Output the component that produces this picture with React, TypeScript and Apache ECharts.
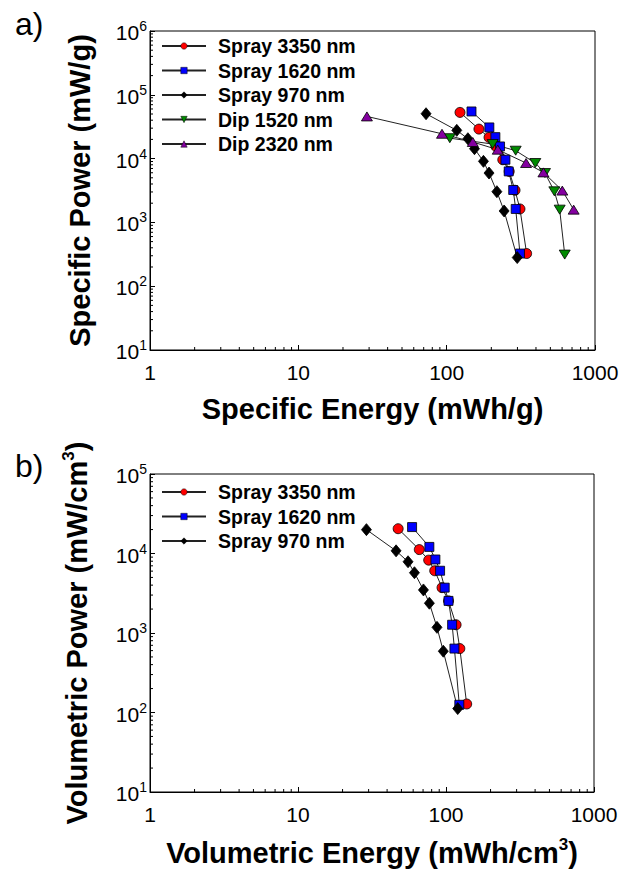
import React, { useEffect, useRef } from 'react';
import * as echarts from 'echarts';

const FONT = '"Liberation Sans", Arial, Helvetica, sans-serif';

// ---------- Panel a) : specific energy vs specific power ----------
const namesA = ['Spray 3350 nm', 'Spray 1620 nm', 'Spray 970 nm', 'Dip 1520 nm', 'Dip 2320 nm'];
const spray3350EnergyA = [123, 165, 193, 215, 239, 264, 289, 312, 346];
const spray3350PowerA = [53000, 29000, 21500, 15500, 9600, 6300, 3190, 1625, 325];
const spray1620EnergyA = [147, 194, 213, 229, 249, 262, 281, 292, 312];
const spray1620PowerA = [54800, 30800, 21700, 15500, 9600, 6300, 3220, 1625, 325];
const spray970EnergyA = [72.6, 117, 139, 154, 177, 193, 218, 244, 299];
const spray970PowerA = [50500, 27700, 20500, 14300, 9060, 5940, 3030, 1510, 281];
const dip1520EnergyA = [105, 204, 292, 396, 460, 532, 578, 625];
const dip1520PowerA = [20900, 16900, 13300, 8530, 5940, 3070, 1585, 313];
const dip2320EnergyA = [29, 93, 150, 221, 343, 449, 602, 718];
const dip2320PowerA = [45800, 24500, 18200, 13800, 8530, 6080, 3150, 1585];

// ---------- Panel b) : volumetric energy vs volumetric power ----------
const namesB = ['Spray 3350 nm', 'Spray 1620 nm', 'Spray 970 nm'];
const spray3350EnergyB = [47.5, 66, 76.4, 83.9, 94, 104, 117, 124, 138];
const spray3350PowerB = [20500, 11200, 8250, 6070, 3720, 2535, 1270, 637, 128];
const spray1620EnergyB = [59, 77.2, 84.8, 91.2, 98, 104, 110, 114, 123];
const spray1620PowerB = [21500, 12100, 8410, 6070, 3720, 2535, 1270, 637, 125];
const spray970EnergyB = [29, 46, 55.4, 61.2, 70.4, 77.2, 86.9, 95.9, 120];
const spray970PowerB = [19950, 10800, 7870, 5730, 3480, 2370, 1178, 590, 112];

// ---------- axis ranges and minor tick values ----------
const xRange = [1, 1000];
const yRangeA = [10, 1e6];
const yRangeB = [10, 1e5];
const minorTicksX = [2, 3, 4, 5, 6, 7, 8, 9, 20, 30, 40, 50, 60, 70, 80, 90, 200, 300, 400, 500, 600, 700, 800, 900];
const minorTicksYA = [
  20, 30, 40, 50, 60, 70, 80, 90,
  200, 300, 400, 500, 600, 700, 800, 900,
  2000, 3000, 4000, 5000, 6000, 7000, 8000, 9000,
  20000, 30000, 40000, 50000, 60000, 70000, 80000, 90000,
  200000, 300000, 400000, 500000, 600000, 700000, 800000, 900000,
];
const minorTicksYB = minorTicksYA.filter((v) => v < 1e5);

const colors = ['#ff0000', '#0000ff', '#000000', '#008a00', '#8400a0'];
const symbols = ['circle', 'rect', 'diamond', 'triangle', 'triangle'];
const symbolRotates = [0, 0, 0, 180, 0];
const symbolSizes: any[] = [10, 9, [10, 12], [11, 9], [11, 9]];

const pairs = (xs: number[], ys: number[]) => xs.map((x, i) => [x, ys[i]]);

const supFormatter = (v: number) => `{b|10}{s|${Math.round(Math.log10(v))}}`;

const tickStyle = { color: '#000', width: 1 };

function mkSeries(name: string, idx: number, data: number[][], axisIdx: number) {
  return {
    type: 'line',
    name,
    xAxisIndex: axisIdx,
    yAxisIndex: axisIdx,
    data,
    symbol: symbols[idx],
    symbolRotate: symbolRotates[idx],
    symbolSize: symbolSizes[idx],
    showAllSymbol: true,
    lineStyle: { color: '#222', width: 1 },
    itemStyle: { color: colors[idx], borderColor: '#000', borderWidth: 0.8 },
    emphasis: { disabled: true },
    z: 3,
  };
}

// minor ticks drawn through the log scales with a custom series
function minorTickSeries(axisIdx: number, values: number[], fixed: number, dir: 'x' | 'y') {
  return {
    type: 'custom',
    xAxisIndex: axisIdx,
    yAxisIndex: axisIdx,
    silent: true,
    clip: false,
    z: 1,
    data: values.map((v) => (dir === 'x' ? [v, fixed] : [fixed, v])),
    renderItem: (params: any, api: any) => {
      const p = api.coord([api.value(0), api.value(1)]);
      const shape =
        dir === 'x'
          ? { x1: p[0], y1: p[1], x2: p[0], y2: p[1] - 3 }
          : { x1: p[0], y1: p[1], x2: p[0] + 3, y2: p[1] };
      return { type: 'line', shape, style: { stroke: '#000', lineWidth: 1 } };
    },
  };
}

function logXAxis(grid: number, name: any, nameGap: number, rich: any) {
  return {
    type: 'log',
    gridIndex: grid,
    logBase: 10,
    min: xRange[0],
    max: xRange[1],
    splitNumber: 3,
    axisLine: { show: true, onZero: false, lineStyle: { color: '#000', width: 1 } },
    axisTick: { show: true, inside: true, length: 5, lineStyle: tickStyle },
    axisLabel: {
      show: true,
      color: '#000',
      fontSize: 21,
      fontFamily: FONT,
      margin: 12,
      formatter: (v: number) => String(Math.round(v)),
    },
    splitLine: { show: false },
    name,
    nameLocation: 'middle',
    nameGap,
    nameTextStyle: { color: '#000', fontSize: 29, fontWeight: 'bold', fontFamily: FONT, rich },
  };
}

function logYAxis(grid: number, range: number[], name: any, nameGap: number, rich: any) {
  return {
    type: 'log',
    gridIndex: grid,
    logBase: 10,
    min: range[0],
    max: range[1],
    splitNumber: Math.round(Math.log10(range[1] / range[0])),
    axisLine: { show: true, onZero: false, lineStyle: { color: '#000', width: 1 } },
    axisTick: { show: true, inside: true, length: 5, lineStyle: tickStyle },
    axisLabel: {
      show: true,
      margin: 3,
      formatter: supFormatter,
      rich: {
        b: { fontSize: 21, fontFamily: FONT, color: '#000', lineHeight: 24, verticalAlign: 'bottom' },
        s: { fontSize: 14, fontFamily: FONT, color: '#000', lineHeight: 24, verticalAlign: 'top' },
      },
    },
    splitLine: { show: false },
    name,
    nameLocation: 'middle',
    nameGap,
    nameRotate: 90,
    nameTextStyle: { color: '#000', fontSize: 29, fontWeight: 'bold', fontFamily: FONT, rich },
  };
}

const supRich = {
  s: { fontSize: 17, fontWeight: 'bold', fontFamily: FONT, color: '#000', verticalAlign: 'top', lineHeight: 34 },
};

function legendFor(names: string[], top: number) {
  return {
    data: names,
    orient: 'vertical',
    left: 161,
    top,
    padding: 0,
    itemWidth: 44,
    itemHeight: 8,
    itemGap: 4.5,
    selectedMode: false,
    itemStyle: { borderWidth: 0.5 },
    textStyle: { color: '#000', fontSize: 19.5, fontWeight: 'bold', fontFamily: FONT, padding: [0, 0, 0, 7] },
  };
}

export default function App() {
  const ref = useRef<HTMLDivElement>(null);

  useEffect(() => {
    if (!ref.current) return;
    const chart = echarts.init(ref.current, null, { renderer: 'svg' });

    const seriesA = [
      mkSeries(namesA[0], 0, pairs(spray3350EnergyA, spray3350PowerA), 0),
      mkSeries(namesA[1], 1, pairs(spray1620EnergyA, spray1620PowerA), 0),
      mkSeries(namesA[2], 2, pairs(spray970EnergyA, spray970PowerA), 0),
      mkSeries(namesA[3], 3, pairs(dip1520EnergyA, dip1520PowerA), 0),
      mkSeries(namesA[4], 4, pairs(dip2320EnergyA, dip2320PowerA), 0),
    ];
    const seriesB = [
      mkSeries(namesB[0], 0, pairs(spray3350EnergyB, spray3350PowerB), 1),
      mkSeries(namesB[1], 1, pairs(spray1620EnergyB, spray1620PowerB), 1),
      mkSeries(namesB[2], 2, pairs(spray970EnergyB, spray970PowerB), 1),
    ];

    chart.setOption({
      animation: false,
      backgroundColor: '#fff',
      textStyle: { fontFamily: FONT },
      grid: [
        { left: 150, top: 31, width: 445, height: 319, show: true, borderColor: '#000', borderWidth: 1, backgroundColor: 'transparent' },
        { left: 150, top: 474, width: 444, height: 318, show: true, borderColor: '#000', borderWidth: 1, backgroundColor: 'transparent' },
      ],
      xAxis: [
        logXAxis(0, 'Specific Energy (mWh/g)', 44, undefined),
        logXAxis(1, 'Volumetric Energy (mWh/cm{s|3})', 44, supRich),
      ],
      yAxis: [
        logYAxis(0, yRangeA, 'Specific Power (mW/g)', 56, undefined),
        logYAxis(1, yRangeB, 'Volumetric Power (mW/cm{s|3})', 56, supRich),
      ],
      legend: [legendFor(namesA, 36), legendFor(namesB, 482)],
      graphic: [
        { type: 'text', left: 15, top: 8, style: { text: 'a)', fontSize: 32, fontFamily: FONT, fill: '#000' } },
        { type: 'text', left: 15, top: 450, style: { text: 'b)', fontSize: 32, fontFamily: FONT, fill: '#000' } },
      ],
      series: [
        minorTickSeries(0, minorTicksX, yRangeA[0], 'x'),
        minorTickSeries(0, minorTicksYA, xRange[0], 'y'),
        minorTickSeries(1, minorTicksX, yRangeB[0], 'x'),
        minorTickSeries(1, minorTicksYB, xRange[0], 'y'),
        ...seriesA,
        ...seriesB,
      ],
    });

    return () => chart.dispose();
  }, []);

  return (
    <div
      ref={ref}
      style={{ position: 'fixed', left: 0, top: 0, width: 623, height: 878, background: '#fff' }}
    />
  );
}
